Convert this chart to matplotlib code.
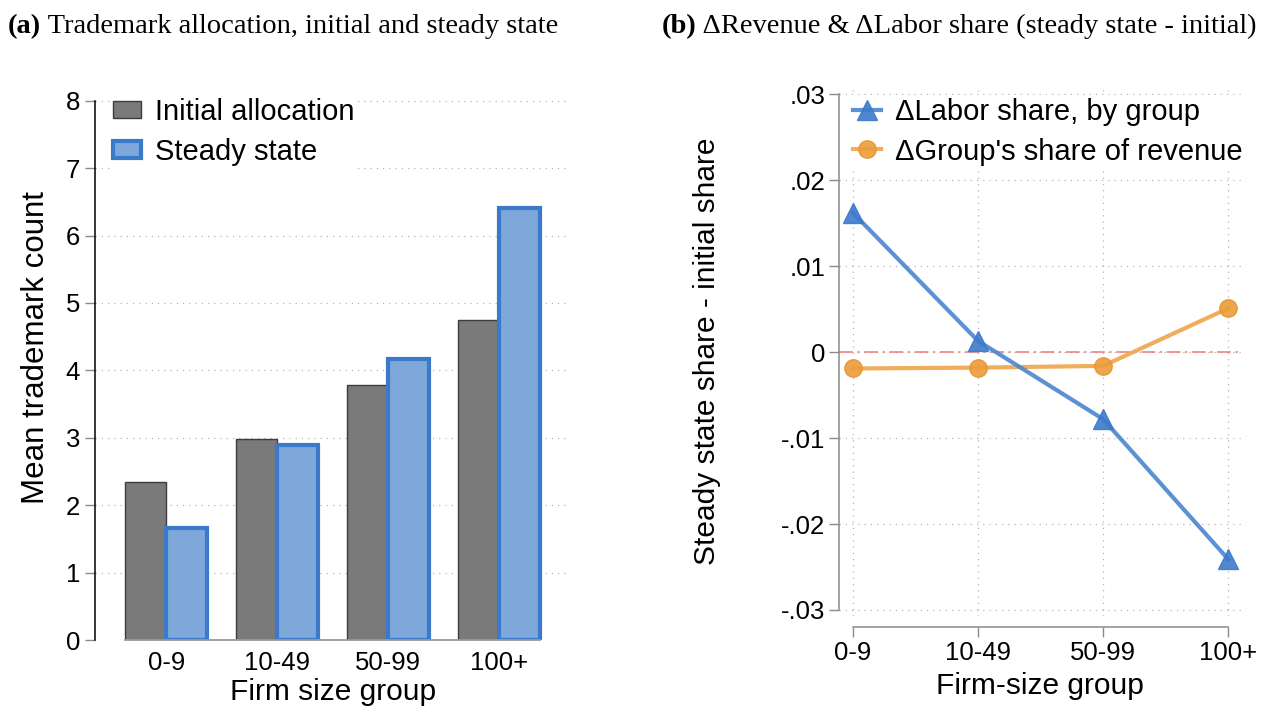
import numpy as np
import matplotlib.pyplot as plt
from matplotlib.ticker import FixedLocator, FixedFormatter

plt.rcParams['font.family'] = ['Liberation Sans', 'DejaVu Sans']

# data
groups = ['0-9', '10-49', '50-99', '100+']
initial_alloc = [2.35, 2.98, 3.78, 4.75]
steady_state = [1.66, 2.89, 4.17, 6.41]

labor_share = [0.0162, 0.0013, -0.0078, -0.0241]
revenue_share = [-0.0019, -0.0018, -0.0016, 0.0051]

left_yticks = [0, 1, 2, 3, 4, 5, 6, 7, 8]
right_yticks = [-0.03, -0.02, -0.01, 0, 0.01, 0.02, 0.03]
right_ylabels = ['-.03', '-.02', '-.01', '0', '.01', '.02', '.03']

W, H = 1265, 708
fig = plt.figure(figsize=(W / 100, H / 100), dpi=100)

def fx(px):
    return px / W

def fy(py):
    return 1 - py / H

grid_kw = dict(color='#b5b5b5', lw=0.9, ls=(0, (1, 4)))
tick_col = '#8a8a8a'
tick_fs = 18.5
label_fs = 21.5
leg_fs = 21

# ---- panel (a): bars
ax1 = fig.add_axes([fx(95.5), fy(640), fx(568) - fx(95.5), fy(94) - fy(640)])
x = np.arange(len(groups))
bw = 0.37
ax1.bar(x - bw / 2, initial_alloc, width=bw, color='#7a7a7a', edgecolor='#3c3c3c',
        lw=1, label='Initial allocation', zorder=3)
ax1.bar(x + bw / 2, steady_state, width=bw, color='#7ea7da', edgecolor='#3b79c9',
        lw=3, label='Steady state', zorder=3)
ax1.set_xlim(-0.637, 3.62)
ax1.set_ylim(0, 8.1)
ax1.yaxis.set_major_locator(FixedLocator(left_yticks))
ax1.set_xticks(x)
ax1.set_xticklabels(groups)
ax1.yaxis.grid(True, **grid_kw, zorder=0)
for s in ['top', 'right']:
    ax1.spines[s].set_visible(False)
ax1.spines['left'].set_bounds(0, 8)
ax1.spines['left'].set_linewidth(1.1)
ax1.spines['bottom'].set_bounds(-bw, 3 + bw)
ax1.spines['bottom'].set_color('#9a9a9a')
ax1.spines['bottom'].set_linewidth(1.3)
ax1.spines['bottom'].set_zorder(4)
ax1.tick_params(axis='y', length=7, width=1, color=tick_col, labelsize=tick_fs, pad=4)
ax1.tick_params(axis='x', length=0, labelsize=tick_fs, pad=8)
fig.text(fx(333), fy(692), 'Firm size group', fontsize=label_fs, ha='center', va='center')
fig.text(fx(36), fy(348), 'Mean trademark count', fontsize=22.5, ha='center', va='center',
         rotation=90)
leg1 = ax1.legend(loc='upper left', bbox_to_anchor=(fx(110), fy(95)), bbox_transform=fig.transFigure,
                  frameon=True, fancybox=False, edgecolor='none', facecolor='white', framealpha=1,
                  fontsize=leg_fs, handlelength=0.95, handleheight=0.5, handletextpad=0.5,
                  labelspacing=0.4, borderpad=0.1, borderaxespad=0)
leg1.set_zorder(5)

# ---- panel (b): lines
ax2 = fig.add_axes([fx(839), fy(616), fx(1242) - fx(839), fy(90) - fy(616)])
ax2.plot(x, labor_share, color='#4a86d0', lw=3, alpha=0.9, marker='^', ms=14.5,
         mfc='#3d7acb', mec='#3d7acb', label='\u0394Labor share, by group', zorder=4)
ax2.plot(x, revenue_share, color='#efa549', lw=3, alpha=0.9, marker='o', ms=12.5,
         mfc='#ec9d3a', mec='#e69430', label="\u0394Group's share of revenue", zorder=3)
ax2.axhline(0, color='#ee7b7b', lw=1.1, ls=(0, (9, 3, 1.5, 3)), zorder=2)
ax2.set_xlim(-0.112, 3.11)
ax2.set_ylim(-0.0307, 0.0305)
ax2.set_xticks(x)
ax2.set_xticklabels(groups)
ax2.yaxis.set_major_locator(FixedLocator(right_yticks))
ax2.yaxis.set_major_formatter(FixedFormatter(right_ylabels))
ax2.grid(True, **grid_kw, zorder=0)
for s in ['top', 'right']:
    ax2.spines[s].set_visible(False)
ax2.spines['left'].set_bounds(-0.03, 0.03)
ax2.spines['left'].set_color('#8a8a8a')
ax2.spines['left'].set_linewidth(1.1)
ax2.spines['bottom'].set_position(('outward', 8))
ax2.spines['bottom'].set_bounds(0, 3)
ax2.spines['bottom'].set_color('#8a8a8a')
ax2.spines['bottom'].set_linewidth(1.1)
ax2.tick_params(axis='both', length=7, width=1, color=tick_col, labelsize=tick_fs, pad=3)
fig.text(fx(1040), fy(686), 'Firm-size group', fontsize=label_fs, ha='center', va='center')
fig.text(fx(707), fy(351), 'Steady state share - initial share', fontsize=label_fs,
         ha='center', va='center', rotation=90)
ax2.legend(loc='upper left', bbox_to_anchor=(fx(850), fy(95)), bbox_transform=fig.transFigure,
           frameon=True, fancybox=False, edgecolor='none', facecolor='white', framealpha=1,
           fontsize=leg_fs, handlelength=0.95, handletextpad=0.5, labelspacing=0.4,
           borderpad=0.1, borderaxespad=0)

# ---- panel titles: bold tag + regular text
serif = ['Liberation Serif', 'DejaVu Serif']
title_fs = 20.5
titles = [(8, '(a)', ' Trademark allocation, initial and steady state'),
          (662, '(b)', ' \u0394Revenue & \u0394Labor share (steady state - initial)')]
fig.canvas.draw()
r = fig.canvas.get_renderer()
for px, tag, rest in titles:
    t = fig.text(fx(px), fy(33), tag, fontsize=title_fs, fontweight='bold', family=serif,
                 va='baseline')
    bb = t.get_window_extent(r)
    fig.text(bb.x1 / W, fy(33), rest, fontsize=title_fs, family=serif, va='baseline')

fig.savefig('out.png', dpi=100)
